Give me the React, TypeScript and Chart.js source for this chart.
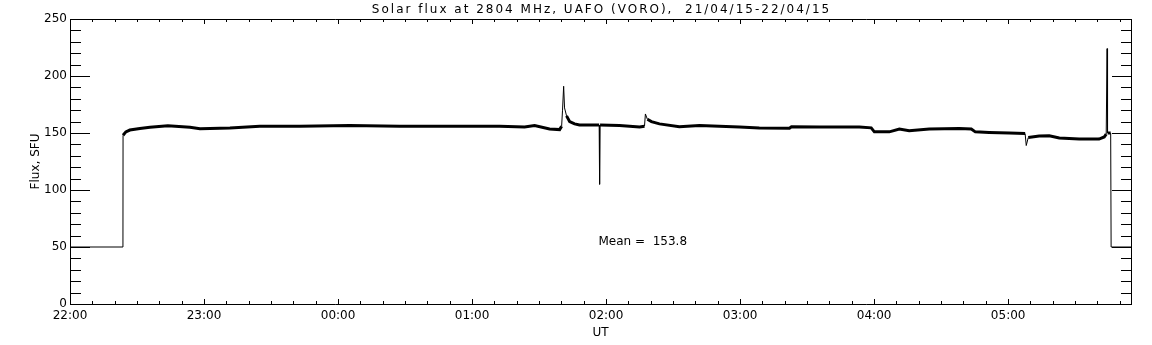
import React, { useEffect, useRef } from "react";
import { Chart, registerables } from "chart.js";

Chart.register(...registerables);

const titleText = "Solar flux at 2804 MHz, UAFO (VORO),  21/04/15-22/04/15";
const yAxisLabel = "Flux, SFU";
const xAxisLabel = "UT";
const meanText = "Mean =  153.8";
const meanAtMinute = 236.6;
const meanAtFlux = 54.4;

const xTickLabels = ["22:00", "23:00", "00:00", "01:00", "02:00", "03:00", "04:00", "05:00"];
const xRangeMin = [0, 475];
const yRange = [0, 250];

// minutes after 22:00 UT
const timeMin = [
  0, 23.7, 23.75, 25.0, 26.8, 31.3, 35.8, 43.8, 53.7, 58.2, 71.6, 85.0, 102.9, 125.2, 147.6, 170.0,
  192.3, 203.5, 208.0, 214.7, 219.2, 220.1, 220.5, 221.0, 221.4, 222.3, 223.7, 225.9, 228.1, 236.9,
  237.1, 237.3, 246.0, 255.0, 257.2, 257.6, 258.5, 260.3, 263.9, 272.8, 281.8, 290.7, 299.7, 308.6,
  322.1, 323.0, 335.5, 353.4, 358.7, 360.1, 366.8, 371.3, 375.7, 384.7, 398.1, 403.5, 405.3, 411.5,
  420.5, 427.6, 428.1, 429.0, 433.9, 438.4, 442.9, 451.8, 460.7, 463.0, 463.9, 464.3, 464.5, 465.9,
  466.1, 475,
];

// flux, SFU
const flux = [
  50, 50, 148, 151, 152.6, 154, 155, 156.4, 155, 153.8, 154.4, 156, 156, 156.6, 156, 156,
  155.9, 155.3, 156.5, 153.5, 153, 156, 170, 191, 172, 165, 160, 158, 157, 157,
  105, 157, 156.5, 155.3, 156, 166.7, 162, 160, 158, 155.5, 156.5, 156, 155.3, 154.4,
  154.2, 155.5, 155.3, 155.3, 154.5, 151, 151, 153.5, 152, 153.5, 154, 153.5, 151, 150.5,
  150, 149.5, 139, 146, 147.4, 147.6, 145.6, 144.7, 144.7, 146.5, 149, 224, 150, 150,
  50, 50,
];

const FONT = "'DejaVu Sans', sans-serif";

const idlFrame = {
  id: "idlFrame",
  afterDatasetsDraw(chart: any) {
    const { ctx, chartArea: a, scales } = chart;
    const xs = scales.x;
    const ys = scales.y;
    ctx.save();
    ctx.strokeStyle = "#000";
    ctx.lineWidth = 1;
    ctx.beginPath();
    ctx.rect(a.left + 0.5, a.top + 0.5, a.right - a.left, a.bottom - a.top);
    for (let v = yRange[0]; v <= yRange[1]; v += 10) {
      const py = Math.round(ys.getPixelForValue(v)) + 0.5;
      const len = v % 50 === 0 ? 20 : 11;
      ctx.moveTo(a.left, py);
      ctx.lineTo(a.left + len, py);
      ctx.moveTo(a.right + 1, py);
      ctx.lineTo(a.right + 1 - len, py);
    }
    for (let m = xRangeMin[0]; m <= xRangeMin[1]; m += 10) {
      const px = Math.round(xs.getPixelForValue(m)) + 0.5;
      const len = m % 60 === 0 ? 5 : 3;
      ctx.moveTo(px, a.bottom);
      ctx.lineTo(px, a.bottom - len);
      ctx.moveTo(px, a.top);
      ctx.lineTo(px, a.top + len);
    }
    ctx.stroke();
    ctx.restore();
  },
  afterDraw(chart: any) {
    const { ctx, chartArea: a, scales } = chart;
    ctx.save();
    ctx.fillStyle = "#000";
    ctx.font = `12px ${FONT}`;
    ctx.textBaseline = "middle";
    ctx.textAlign = "center";
    try {
      (ctx as any).letterSpacing = "2px";
    } catch (e) {}
    ctx.fillText(titleText, (a.left + a.right) / 2 + 1, 10);
    try {
      (ctx as any).letterSpacing = "0px";
    } catch (e) {}
    ctx.textAlign = "left";
    ctx.fillText(meanText, scales.x.getPixelForValue(meanAtMinute), scales.y.getPixelForValue(meanAtFlux));
    ctx.restore();
  },
};

export default function App() {
  const ref = useRef<HTMLCanvasElement | null>(null);

  useEffect(() => {
    document.body.style.margin = "0";
    document.body.style.background = "#fff";
    const canvas = ref.current;
    if (!canvas) return;
    const points = timeMin.map((t, i) => ({ x: t, y: flux[i] }));
    const chart = new Chart(canvas, {
      type: "line",
      data: {
        datasets: [
          {
            data: points,
            borderColor: "#000",
            borderWidth: 3,
            pointRadius: 0,
            tension: 0,
            borderJoinStyle: "miter",
            segment: {
              borderWidth: (c: any) => {
                const dx = Math.abs(c.p1.x - c.p0.x);
                const dy = Math.abs(c.p1.y - c.p0.y);
                if (c.p0.parsed.y < 100 && c.p1.parsed.y < 100) return 1;
                return dy > 2 * dx ? 1 : 3;
              },
            },
          },
        ],
      },
      options: {
        animation: false,
        responsive: false,
        devicePixelRatio: 1,
        layout: { padding: { top: 19, right: 21, left: 0, bottom: 0 } },
        plugins: {
          legend: { display: false },
          title: { display: false },
          tooltip: { enabled: false },
        },
        scales: {
          x: {
            type: "linear",
            min: xRangeMin[0],
            max: xRangeMin[1],
            grid: { display: false, drawTicks: false },
            border: { display: false },
            ticks: {
              stepSize: 60,
              autoSkip: false,
              maxRotation: 0,
              padding: 5,
              color: "#000",
              font: { family: FONT, size: 12 },
              callback: (v: any) => {
                const i = Math.round(Number(v) / 60);
                return Number(v) % 60 === 0 ? xTickLabels[i] ?? "" : "";
              },
            },
            afterBuildTicks: (s: any) => {
              s.ticks = s.ticks.filter((t: any) => t.value % 60 === 0);
            },
            afterFit: (s: any) => {
              s.height = 41;
            },
            title: {
              display: true,
              text: xAxisLabel,
              color: "#000",
              font: { family: FONT, size: 12 },
              padding: { top: 0, bottom: 5 },
            },
          },
          y: {
            type: "linear",
            min: yRange[0],
            max: yRange[1],
            grid: { display: false, drawTicks: false },
            border: { display: false },
            ticks: {
              stepSize: 50,
              padding: 3,
              color: "#000",
              font: { family: FONT, size: 12 },
            },
            afterFit: (s: any) => {
              s.width = 70;
            },
            title: {
              display: true,
              text: yAxisLabel,
              color: "#000",
              font: { family: FONT, size: 12 },
              padding: { top: 29, bottom: 0 },
            },
          },
        },
      },
      plugins: [idlFrame],
    } as any);
    return () => chart.destroy();
  }, []);

  return (
    <canvas
      ref={ref}
      width={1152}
      height={345}
      style={{ display: "block", width: 1152, height: 345 }}
    />
  );
}
